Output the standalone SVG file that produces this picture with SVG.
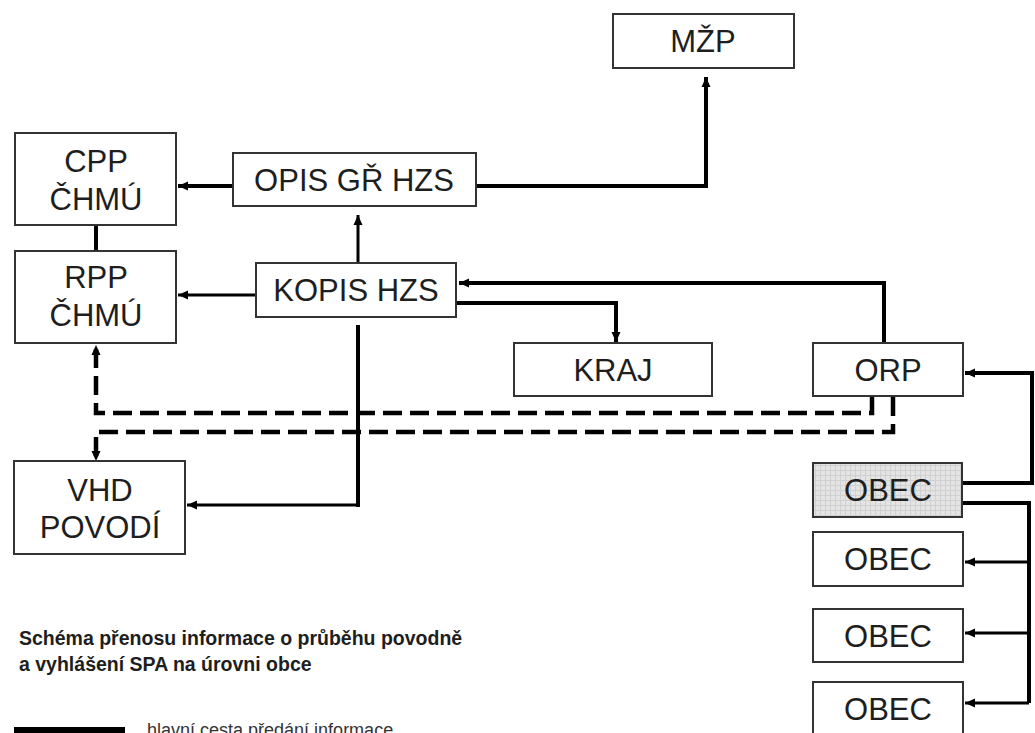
<svg xmlns="http://www.w3.org/2000/svg" width="1035" height="733" viewBox="0 0 1035 733">
<style>
.box{fill:#fff;stroke:#333;stroke-width:2}
.shaded{fill:url(#grid);stroke:#333;stroke-width:2}
.t{font-family:"Liberation Sans",Arial,sans-serif;font-size:31px;fill:#1e1e1e;text-anchor:middle}
.c{fill:none;stroke:#000;stroke-linejoin:miter}
.thick{stroke-width:4}
.thin{stroke-width:3}
.dash{stroke-width:4.5;stroke-dasharray:19 8}
.title{font-family:"Liberation Sans",Arial,sans-serif;font-weight:bold;font-size:19.5px;fill:#1e1e1e}
.leg{font-family:"Liberation Sans",Arial,sans-serif;font-size:18px;fill:#333}
</style>
<defs>
<pattern id="grid" width="5" height="5" patternUnits="userSpaceOnUse">
<rect width="5" height="5" fill="#e4e4e4"/>
<path d="M0 0.5H5M0.5 0V5" stroke="#d0d0d0" stroke-width="1"/>
</pattern>
<marker id="ah" markerUnits="userSpaceOnUse" markerWidth="10" markerHeight="10" viewBox="0 0 10 10" refX="10" refY="5" orient="auto">
<path d="M0,0.5 L10,5 L0,9.5 Z" fill="#000"/>
</marker>
</defs>

<g id="connectors">
<path class="c thick" d="M233,186 H178" marker-end="url(#ah)"/>
<path class="c thick" d="M476,186 H706 V77" marker-end="url(#ah)"/>
<path class="c thin" d="M358,263 V215" marker-end="url(#ah)"/>
<path class="c thin" d="M256,295 H178" marker-end="url(#ah)"/>
<path class="c thick" d="M96,225 V251"/>
<path class="c thick" d="M358,325 V507"/>
<path class="c thin" d="M358,505 H187" marker-end="url(#ah)"/>
<path class="c thick" d="M884,343 V283 H459" marker-end="url(#ah)"/>
<path class="c thick" d="M456,303 H616 V342" marker-end="url(#ah)"/>
<path class="c thick" d="M962,483 H1032 V373 H965" marker-end="url(#ah)"/>
<path class="c thick" d="M962,503 H1029 V703"/>
<path class="c thin" d="M1029,562 H965" marker-end="url(#ah)"/>
<path class="c thin" d="M1029,633 H965" marker-end="url(#ah)"/>
<path class="c thin" d="M1029,703 H965" marker-end="url(#ah)"/>
<path class="c dash" d="M872,397 V413 H96 V345" marker-end="url(#ah)"/>
<path class="c dash" d="M893,397 V432 H96 V461" marker-end="url(#ah)"/>
</g>

<g id="mzp"><rect class="box" x="613" y="14" width="181" height="54"/><text class="t" x="703" y="52">MŽP</text></g>
<g id="cpp"><rect class="box" x="15" y="133" width="161" height="92"/><text class="t" x="96" y="172">CPP</text><text class="t" x="96" y="210">ČHMÚ</text></g>
<g id="opis"><rect class="box" x="233" y="153" width="243" height="53"/><text class="t" x="354" y="191">OPIS GŘ HZS</text></g>
<g id="rpp"><rect class="box" x="15" y="251" width="161" height="92"/><text class="t" x="96" y="288">RPP</text><text class="t" x="96" y="326">ČHMÚ</text></g>
<g id="kopis"><rect class="box" x="256" y="263" width="200" height="54"/><text class="t" x="356" y="301">KOPIS HZS</text></g>
<g id="kraj"><rect class="box" x="514" y="343" width="198" height="53"/><text class="t" x="613" y="381">KRAJ</text></g>
<g id="orp"><rect class="box" x="813" y="343" width="150" height="53"/><text class="t" x="888" y="381">ORP</text></g>
<g id="vhd"><rect class="box" x="14" y="461" width="171" height="93"/><text class="t" x="100" y="501">VHD</text><text class="t" x="100" y="538">POVODÍ</text></g>
<g id="obec1"><rect class="shaded" x="813" y="463" width="149" height="54"/><text class="t" x="888" y="501">OBEC</text></g>
<g id="obec2"><rect class="box" x="813" y="532" width="150" height="54"/><text class="t" x="888" y="570">OBEC</text></g>
<g id="obec3"><rect class="box" x="813" y="609" width="150" height="53"/><text class="t" x="888" y="647">OBEC</text></g>
<g id="obec4"><rect class="box" x="813" y="682" width="150" height="54"/><text class="t" x="888" y="720">OBEC</text></g>

<g id="legend">
<text class="title" x="19" y="645">Schéma přenosu informace o průběhu povodně</text>
<text class="title" x="19" y="671">a vyhlášení SPA na úrovni obce</text>
<rect x="14" y="727" width="111" height="8" fill="#000"/>
<text class="leg" x="147" y="736">hlavní cesta předání informace</text>
</g>
</svg>
